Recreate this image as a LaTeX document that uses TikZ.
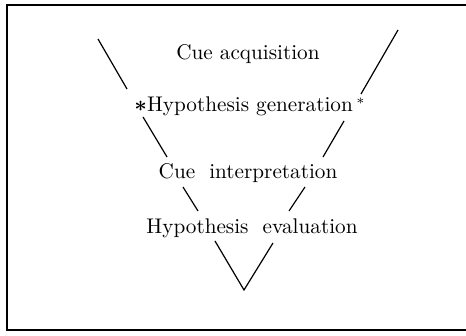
\documentclass[tikz,border=0pt]{standalone}
\usetikzlibrary{positioning}
\begin{document}
\begin{tikzpicture}[x=0.5pt,y=-0.5pt, semithick, every node/.style={font=\fontsize{10.6}{12}\selectfont, inner sep=0pt}]
    \tikzset{stage/.style={text height=1.6ex, text depth=0.45ex}};
    \useasboundingbox (0,0) rectangle (466,336);
    % frame, open on the right
    \draw[line width=0.8pt] (466,5) -- (7,5);
    \draw[line width=0.8pt] (7,330) -- (466,330);
    \draw[line width=1.1pt] (7,4) -- (7,331);
    % stages
    \node[stage] (sAcq) at (248,55) {Cue acquisition};
    \node[stage, below of=sAcq, node distance=26pt, xshift=1pt] (sGen) {{\boldmath$\ast$}Hypothesis generation\,$^{\ast}$};
    \node[stage, below of=sGen, node distance=33.5pt, xshift=-1pt] (sInt) {Cue\ \ interpretation};
    \node[stage, below of=sInt, node distance=27.5pt, xshift=2pt] (sEva) {Hypothesis\ \ evaluation};
    % the funnel
    \coordinate (apex) at (244,290);
    {
      \path[draw]
        (98,39) -- (127,89)
        (143,117) -- (167,157)
        (183,187) -- (198,211)
        (215,241) -- (apex) -- (273,243)
        (289,211) -- (305,187)
        (323,157) -- (344,121)
        (361,94) -- (398,30)
        ;
      }
\end{tikzpicture}
\end{document}
